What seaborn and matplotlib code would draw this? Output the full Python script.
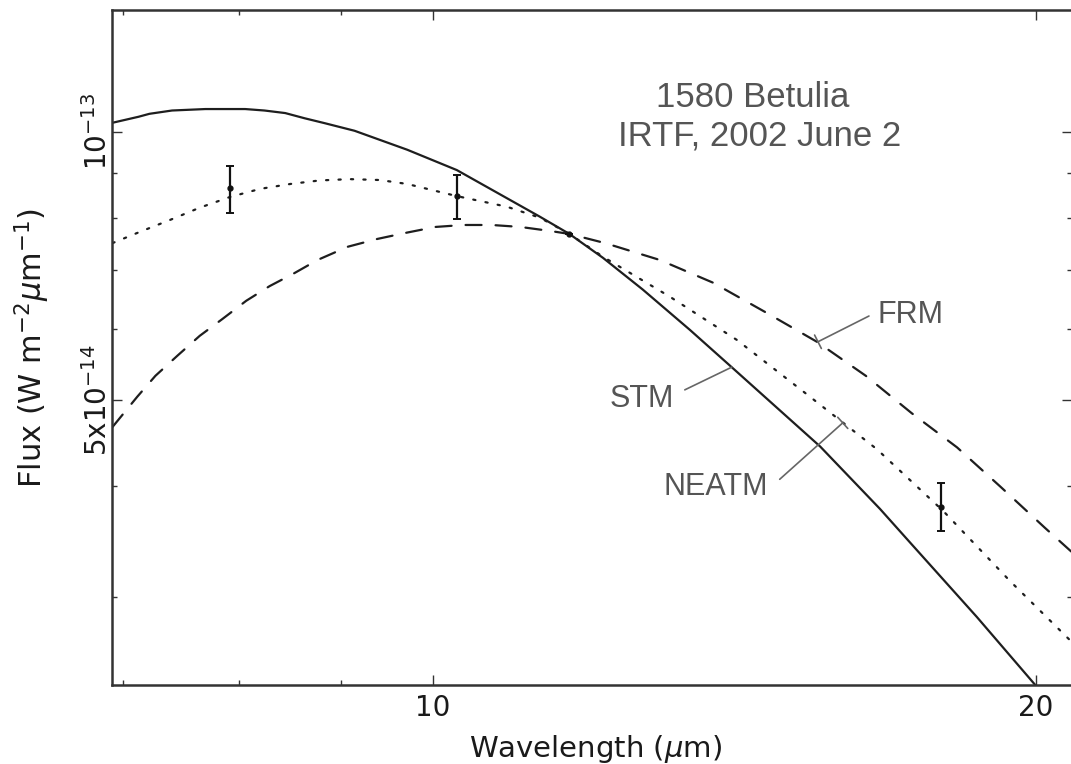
import numpy as np
import pandas as pd
import matplotlib
matplotlib.use("Agg")
import matplotlib.pyplot as plt
import seaborn as sns
from matplotlib.ticker import FixedLocator, NullFormatter

SCALE = 1e-14  # flux values below are in units of 1e-14 W m^-2 um^-1

# STM model (solid)
stm_wl = [6.92, 7.13, 7.22, 7.41, 7.70, 8.06, 8.24, 8.44, 8.63, 8.83, 9.14,
          9.71, 10.28, 11.31, 11.70, 12.16, 12.73, 13.44, 14.10, 15.61,
          16.72, 17.30, 18.69, 20.02]
stm_flux = [10.24, 10.40, 10.48, 10.57, 10.61, 10.61, 10.57, 10.50, 10.36,
            10.23, 10.03, 9.55, 9.06, 8.03, 7.68, 7.22, 6.65, 5.99, 5.44,
            4.43, 3.77, 3.46, 2.85, 2.38]

# NEATM model (dotted)
neatm_wl = [6.92, 7.14, 7.39, 7.65, 7.92, 8.20, 8.49, 8.78, 9.09, 9.41, 9.71,
            10.28, 10.89, 11.31, 11.70, 12.16, 13.13, 14.18, 15.34, 16.66,
            17.98, 19.41, 20.85]
neatm_flux = [7.50, 7.72, 7.96, 8.22, 8.45, 8.63, 8.74, 8.82, 8.85, 8.83, 8.74,
              8.47, 8.24, 8.01, 7.68, 7.24, 6.53, 5.84, 5.09, 4.40,
              3.75, 3.13, 2.67]

# FRM model (dashed)
frm_wl = [6.92, 7.12, 7.27, 7.46, 7.65, 7.85, 8.07, 8.29, 8.53, 8.76, 9.07,
          9.38, 9.69, 10.03, 10.36, 10.70, 11.06, 11.44, 11.70, 12.19, 12.98,
          13.80, 14.68, 15.55, 16.45, 17.34, 18.27, 19.21, 20.21, 20.85]
frm_flux = [4.66, 5.04, 5.32, 5.61, 5.90, 6.16, 6.46, 6.71, 6.94, 7.18, 7.43,
            7.58, 7.70, 7.82, 7.86, 7.86, 7.82, 7.74, 7.68, 7.50, 7.18,
            6.77, 6.26, 5.81, 5.32, 4.83, 4.42, 3.99, 3.59, 3.37]

# Observations (with error bars)
obs_wl = [7.92, 10.28, 11.70, 17.94]
obs_flux = [8.65, 8.47, 7.68, 3.79]
obs_lo = [8.11, 7.99, 7.68, 3.56]
obs_hi = [9.16, 8.95, 7.68, 4.03]

x_ticks = [10, 20]
x_ticklabels = ["10", "20"]
x_minor = [7, 8, 9]
y_ticks = [5e-14, 1e-13]
y_ticklabels = ["5x10$^{-14}$", "10$^{-13}$"]
y_minor = [3e-14, 4e-14, 6e-14, 7e-14, 8e-14, 9e-14]

sns.set_theme(style="ticks")
plt.rcParams["font.family"] = ["DejaVu Sans"]
plt.rcParams["mathtext.fontset"] = "dejavusans"

fig = plt.figure(figsize=(10.71, 7.64), dpi=100)
fig.patch.set_facecolor("white")
ax = fig.add_axes([112 / 1071, 79 / 764, 960 / 1071, 675 / 764])
ax.set_facecolor("white")
ax.set_xscale("log")
ax.set_yscale("log")

df = pd.concat([
    pd.DataFrame({"wl": stm_wl, "flux": np.array(stm_flux) * SCALE, "model": "STM"}),
    pd.DataFrame({"wl": neatm_wl, "flux": np.array(neatm_flux) * SCALE, "model": "NEATM"}),
    pd.DataFrame({"wl": frm_wl, "flux": np.array(frm_flux) * SCALE, "model": "FRM"}),
], ignore_index=True)

sns.lineplot(data=df, x="wl", y="flux", style="model",
             style_order=["STM", "NEATM", "FRM"],
             dashes={"STM": "", "NEATM": (1.0, 4.6), "FRM": (7.2, 6.3)},
             color="#1e1e1e", linewidth=1.6, sort=False, estimator=None,
             legend=False, ax=ax)
for ln in ax.get_lines():
    ln.set_dash_capstyle("round")
    ln.set_solid_joinstyle("round")

of = np.array(obs_flux)
yerr = np.array([of - np.array(obs_lo), np.array(obs_hi) - of]) * SCALE
ax.errorbar(obs_wl, of * SCALE, yerr=yerr, fmt="o", ms=3.5, color="#111111",
            ecolor="#111111", elinewidth=1.6, capsize=3, capthick=1.4, zorder=5)

ax.set_xlim(6.916, 20.85)
ax.set_ylim(2.390e-14, 1.371e-13)

ax.xaxis.set_major_locator(FixedLocator(x_ticks))
ax.set_xticklabels(x_ticklabels)
ax.xaxis.set_minor_locator(FixedLocator(x_minor))
ax.xaxis.set_minor_formatter(NullFormatter())
ax.yaxis.set_major_locator(FixedLocator(y_ticks))
ax.set_yticklabels(y_ticklabels)
ax.yaxis.set_minor_locator(FixedLocator(y_minor))
ax.yaxis.set_minor_formatter(NullFormatter())

ax.tick_params(which="both", direction="in", top=True, right=True,
               width=1.0, color="#333333", labelcolor="#1a1a1a")
ax.tick_params(which="major", length=7)
ax.tick_params(which="minor", length=3.5)
ax.tick_params(axis="x", which="major", labelsize=20, pad=6.5)
ax.tick_params(axis="y", which="major", labelsize=20, pad=-0.5, labelrotation=90)
for lab in ax.get_yticklabels():
    lab.set_va("center")

for sp in ax.spines.values():
    sp.set_linewidth(1.8)
    sp.set_color("#333333")

ax.set_xlabel(r"Wavelength ($\mu$m)", fontsize=21, color="#1a1a1a")
ax.xaxis.set_label_coords(0.504, -0.071)
ax.set_ylabel(r"Flux (W m$^{-2}$$\mu$m$^{-1}$)", fontsize=22, color="#1a1a1a")
ax.yaxis.set_label_coords(-0.0626, 0.5)

gray = "#555555"
lab_font = ["Liberation Sans", "DejaVu Sans"]
ax.text(0.6677, 0.8563, "1580 Betulia", transform=ax.transAxes, ha="center",
        va="baseline", fontsize=25, color=gray, family=lab_font)
ax.text(0.675, 0.800, "IRTF, 2002 June 2", transform=ax.transAxes, ha="center",
        va="baseline", fontsize=25, color=gray, family=lab_font)

ax.text(0.5188, 0.4119, "STM", transform=ax.transAxes, ha="left", va="baseline",
        fontsize=22, color=gray, family=lab_font)
ax.text(0.7979, 0.5363, "FRM", transform=ax.transAxes, ha="left", va="baseline",
        fontsize=22, color=gray, family=lab_font)
ax.text(0.5740, 0.2815, "NEATM", transform=ax.transAxes, ha="left", va="baseline",
        fontsize=22, color=gray, family=lab_font)

ax.annotate("", xy=(14.10, 5.44e-14), xytext=(13.36, 5.13e-14),
            arrowprops=dict(arrowstyle="-", color="#666666", lw=1.2,
                            shrinkA=0, shrinkB=0))
ax.annotate("", xy=(15.57, 5.81e-14), xytext=(16.51, 6.21e-14),
            arrowprops=dict(arrowstyle="-[, widthB=0.54, lengthB=0",
                            color="#666666", lw=1.2, shrinkA=0, shrinkB=0,
                            mutation_scale=10))
ax.annotate("", xy=(16.02, 4.71e-14), xytext=(14.90, 4.07e-14),
            arrowprops=dict(arrowstyle="-[, widthB=0.54, lengthB=0",
                            color="#666666", lw=1.2, shrinkA=0, shrinkB=0,
                            mutation_scale=10))

fig.savefig("out.png", dpi=100, facecolor="white")
